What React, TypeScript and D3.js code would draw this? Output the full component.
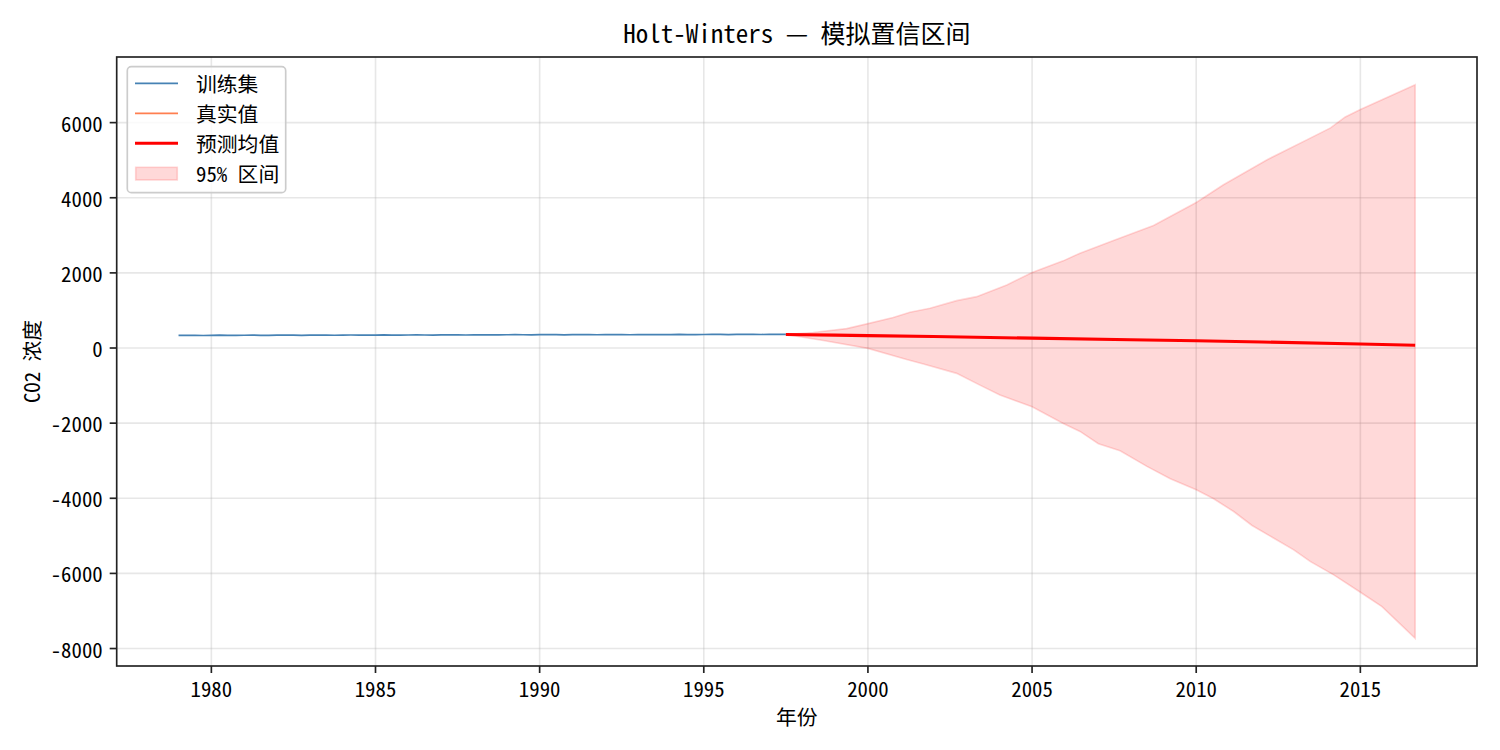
import React from "react";
import * as d3 from "d3";

// ---- Data ----
const trainStartYear = 1979.0;
// quarterly CO2 values (ppm), 1979 Q1 .. 1997 Q3
const trainValues = [
  336.0, 338.2, 335.5, 333.0,
  338.0, 340.5, 338.0, 335.5,
  339.5, 341.6, 339.0, 336.5,
  340.7, 342.7, 340.5, 337.8,
  342.0, 344.5, 342.5, 340.0,
  344.2, 346.5, 344.0, 341.5,
  345.5, 348.0, 345.5, 343.0,
  347.0, 349.5, 346.5, 344.5,
  348.5, 351.0, 348.5, 346.5,
  351.0, 353.5, 351.0, 349.0,
  352.8, 355.0, 352.5, 350.0,
  353.9, 356.5, 354.0, 351.5,
  355.5, 358.0, 355.3, 352.5,
  356.3, 358.5, 356.0, 353.2,
  357.0, 359.0, 356.5, 354.0,
  358.2, 361.0, 358.5, 356.0,
  360.2, 363.0, 360.5, 358.0,
  362.4, 364.5, 362.5, 359.5,
  363.2, 366.0, 363.0,
];
const trainStep = 0.25;

const testYears: number[] = [];
const testValues: number[] = [];

const meanYears = [1997.5, 1999.0, 2000.0, 2002.0, 2005.0, 2008.0, 2010.0, 2012.0, 2015.0, 2016.67];
const meanValues = [360, 342, 330, 305, 262, 222, 192, 160, 105, 72];

const upperYears = [1997.5, 1998.33, 1999.35, 2000.0, 2000.77, 2001.28, 2001.89, 2002.7, 2003.31, 2004.23, 2005.0, 2005.95, 2006.46, 2007.48, 2008.7, 2010.0, 2010.83, 2012.16, 2013.38, 2014.09, 2014.54, 2015.0, 2016.67];
const upperValues = [360, 411, 517, 650, 811, 952, 1059, 1261, 1368, 1680, 2008, 2320, 2525, 2861, 3261, 3875, 4347, 5013, 5547, 5859, 6152, 6347, 7010];

const lowerYears = [1997.5, 1998.64, 2000.0, 2001.18, 2001.69, 2002.7, 2003.41, 2004.02, 2005.0, 2005.95, 2006.46, 2007.02, 2007.68, 2008.5, 2009.21, 2010.0, 2010.53, 2011.14, 2011.7, 2012.97, 2013.48, 2014.19, 2015.0, 2015.66, 2016.67];
const lowerValues = [360, 200, -10, -303, -427, -675, -987, -1253, -1565, -2008, -2221, -2549, -2735, -3152, -3480, -3773, -4013, -4352, -4725, -5373, -5685, -6040, -6501, -6885, -7728];

const xTicks = [1980, 1985, 1990, 1995, 2000, 2005, 2010, 2015];
const yTicks = [-8000, -6000, -4000, -2000, 0, 2000, 4000, 6000];

const titleText = "Holt-Winters — 模拟置信区间";
const xLabel = "年份";
const yLabel = "CO2 浓度";
const legendItems = ["训练集", "真实值", "预测均值", "95% 区间"];

// ---- Layout ----
const W = 1500, H = 750;
const L = 116.7, R = 1477, T = 57, B = 666;
const FONT = "'Noto Sans Mono CJK SC', 'Noto Sans CJK SC', sans-serif";
const FS = 20.8;

export default function App() {
  const trainPts: [number, number][] = trainValues.map((v, i) => [trainStartYear + i * trainStep, v]);
  const meanPts: [number, number][] = meanYears.map((y, i) => [y, meanValues[i]]);
  const upPts: [number, number][] = upperYears.map((y, i) => [y, upperValues[i]]);
  const loPts: [number, number][] = lowerYears.map((y, i) => [y, lowerValues[i]]);
  const testPts: [number, number][] = testYears.map((y, i) => [y, testValues[i]]);

  const allX = [...trainPts, ...meanPts, ...upPts, ...loPts].map((p) => p[0]);
  const allY = [...trainPts, ...meanPts, ...upPts, ...loPts].map((p) => p[1]);
  const [x0, x1] = d3.extent(allX) as [number, number];
  const [y0, y1] = d3.extent(allY) as [number, number];
  const xm = (x1 - x0) * 0.05, ym = (y1 - y0) * 0.05;

  const x = d3.scaleLinear().domain([x0 - xm, x1 + xm]).range([L, R]);
  const y = d3.scaleLinear().domain([y0 - ym, y1 + ym]).range([B, T]);

  const line = d3.line<[number, number]>().x((d) => x(d[0])).y((d) => y(d[1]));
  const bandPath = line([...upPts, ...loPts.slice().reverse()]) + "Z";

  const gridColor = "#b0b0b0";

  return (
    <svg width={W} height={H} style={{ display: "block", position: "absolute", left: 0, top: 0, background: "#fff" }} fontFamily={FONT}>
      <rect x={0} y={0} width={W} height={H} fill="#fff" />
      {/* grid */}
      {xTicks.map((t) => (
        <line key={"gx" + t} x1={x(t)} x2={x(t)} y1={T} y2={B} stroke={gridColor} strokeOpacity={0.3} strokeWidth={1.6} />
      ))}
      {yTicks.map((t) => (
        <line key={"gy" + t} x1={L} x2={R} y1={y(t)} y2={y(t)} stroke={gridColor} strokeOpacity={0.3} strokeWidth={1.6} />
      ))}
      {/* band */}
      <path d={bandPath} fill="red" fillOpacity={0.15} stroke="red" strokeOpacity={0.15} strokeWidth={1.6} />
      {/* training */}
      <path d={line(trainPts) || ""} fill="none" stroke="steelblue" strokeWidth={1.7} />
      {testPts.length > 0 && <path d={line(testPts) || ""} fill="none" stroke="coral" strokeWidth={1.7} />}
      {/* mean */}
      <path d={line(meanPts) || ""} fill="none" stroke="red" strokeWidth={3.1} />
      {/* spines */}
      <rect x={L} y={T} width={R - L} height={B - T} fill="none" stroke="#222" strokeWidth={1.67} />
      {/* ticks */}
      {xTicks.map((t) => (
        <g key={"tx" + t}>
          <line x1={x(t)} x2={x(t)} y1={B} y2={B + 7} stroke="#222" strokeWidth={1.67} />
          <text x={x(t)} y={B + 31} textAnchor="middle" fontSize={FS} fill="#000">{t}</text>
        </g>
      ))}
      {yTicks.map((t) => (
        <g key={"ty" + t}>
          <line x1={L - 7} x2={L} y1={y(t)} y2={y(t)} stroke="#222" strokeWidth={1.67} />
          <text x={L - 14} y={y(t)} textAnchor="end" dominantBaseline="central" fontSize={FS} fill="#000">{t}</text>
        </g>
      ))}
      {/* labels */}
      <text x={(L + R) / 2} y={43} textAnchor="middle" fontSize={25} fill="#000">{titleText}</text>
      <text x={(L + R) / 2} y={725} textAnchor="middle" fontSize={FS} fill="#000">{xLabel}</text>
      <text transform={`translate(31,${(T + B) / 2}) rotate(-90)`} textAnchor="middle" dominantBaseline="central" fontSize={FS} fill="#000">{yLabel}</text>
      {/* legend */}
      <g>
        <rect x={127.3} y={66.7} width={158.4} height={126} rx={4} fill="#fff" fillOpacity={0.8} stroke="#ccc" strokeWidth={1.67} />
        <line x1={135} x2={178} y1={83.3} y2={83.3} stroke="steelblue" strokeWidth={1.7} />
        <line x1={135} x2={178} y1={113.3} y2={113.3} stroke="coral" strokeWidth={1.7} />
        <line x1={135} x2={178} y1={143.3} y2={143.3} stroke="red" strokeWidth={3.1} />
        <rect x={135.7} y={167.3} width={41.6} height={12.7} fill="red" fillOpacity={0.15} stroke="red" strokeOpacity={0.15} strokeWidth={1.6} />
        {legendItems.map((s, i) => (
          <text key={s} x={196} y={83.3 + i * 30} dominantBaseline="central" fontSize={FS} fill="#000">{s}</text>
        ))}
      </g>
    </svg>
  );
}
